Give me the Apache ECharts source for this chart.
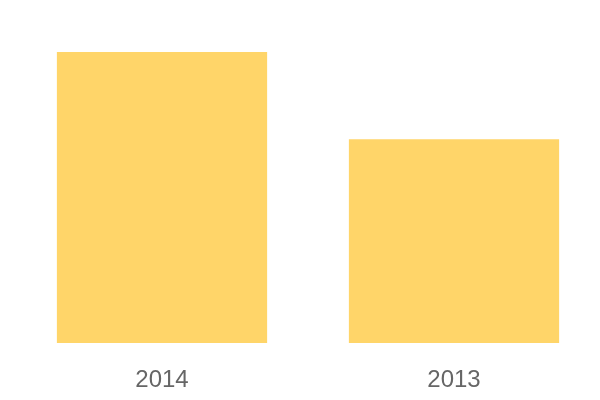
<!DOCTYPE html>
<html><head><meta charset="utf-8">
<script src="https://cdn.jsdelivr.net/npm/echarts@6/dist/echarts.min.js"></script>
<style>html,body{margin:0;padding:0;background:#fff}#c{width:600px;height:400px}</style>
</head><body><div id="c"></div>
<script>
const categories = ['2014', '2013'];
const values = [100, 70];
const chart = echarts.init(document.getElementById('c'), null, {renderer: 'canvas'});
chart.setOption({
  animation: false,
  grid: {left: 16, right: 0, top: 52, bottom: 57, containLabel: false},
  xAxis: {
    type: 'category', data: categories,
    axisLine: {show: false}, axisTick: {show: false},
    axisLabel: {color: '#666666', fontSize: 24, fontFamily: 'Liberation Sans, Arial, sans-serif', margin: 25}
  },
  yAxis: {type: 'value', min: 0, max: 100, show: false, splitLine: {show: false}},
  series: [{
    type: 'bar', data: values, barCategoryGap: '28%',
    itemStyle: {color: '#FFD569'}
  }]
});
</script></body></html>
